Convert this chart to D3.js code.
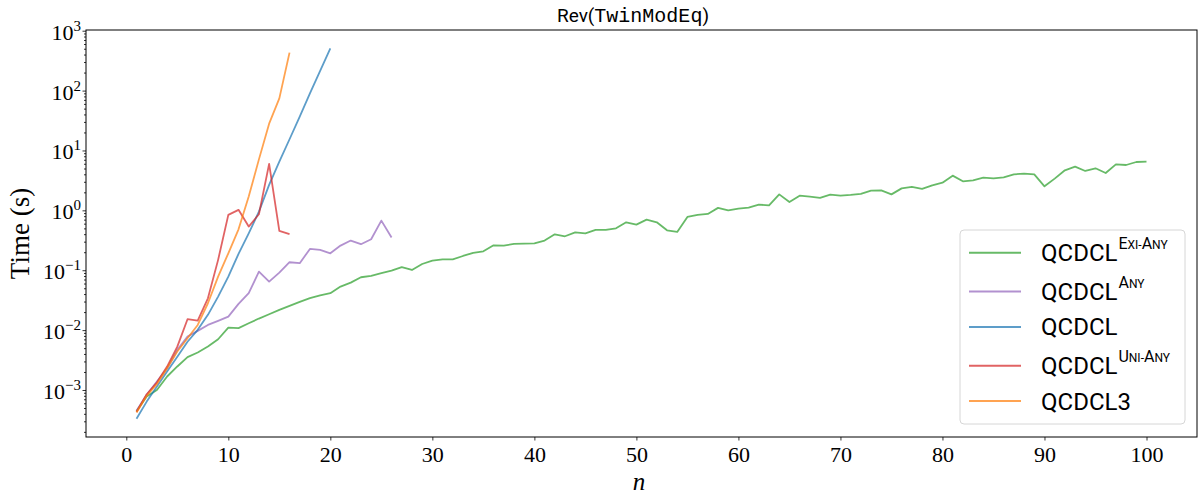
<!DOCTYPE html>
<html>
<head>
<meta charset="utf-8">
<script src="https://cdn.jsdelivr.net/npm/d3@7"></script>
<style>
  body { margin: 0; background: #fff; }
  svg { display: block; }
</style>
</head>
<body>
<div id="chart"></div>
<script>
// data
var nExiAny = d3.range(1, 101);
var tExiAny = [
  4.4e-4, 7.8e-4, 1.0e-3, 1.68e-3, 2.47e-3, 3.53e-3, 4.22e-3, 5.31e-3, 7.04e-3, 0.0110,
  0.0108, 0.0130, 0.0156, 0.0184, 0.0218, 0.0254, 0.0296, 0.0341, 0.0382, 0.0413,
  0.0534, 0.0622, 0.0764, 0.0804, 0.0891, 0.0987, 0.113, 0.101, 0.127, 0.145,
  0.152, 0.152, 0.173, 0.195, 0.207, 0.261, 0.258, 0.275, 0.279, 0.282,
  0.313, 0.398, 0.369, 0.430, 0.414, 0.471, 0.471, 0.502, 0.632, 0.578,
  0.700, 0.632, 0.465, 0.436, 0.776, 0.838, 0.871, 1.10, 1.00, 1.07,
  1.11, 1.25, 1.21, 1.85, 1.38, 1.76, 1.69, 1.61, 1.83, 1.76,
  1.81, 1.88, 2.13, 2.16, 1.85, 2.33, 2.46, 2.28, 2.62, 2.90,
  3.80, 3.06, 3.18, 3.52, 3.43, 3.56, 4.00, 4.10, 4.00, 2.52,
  3.39, 4.67, 5.37, 4.55, 5.04, 4.21, 5.87, 5.72, 6.42, 6.50
];
var nAny = d3.range(1, 27);
var tAny = [
  4.5e-4, 8.3e-4, 1.38e-3, 2.31e-3, 4.68e-3, 7.8e-3, 9.7e-3, 0.0122, 0.0143, 0.0168,
  0.0274, 0.0413, 0.095, 0.0647, 0.0914, 0.136, 0.131, 0.227, 0.218, 0.192,
  0.258, 0.313, 0.272, 0.329, 0.674, 0.351
];
var nPlain = d3.range(1, 21);
var tPlain = [
  3.3e-4, 6.4e-4, 1.14e-3, 2.03e-3, 3.6e-3, 6.4e-3, 0.0101, 0.0180, 0.0363, 0.078,
  0.188, 0.414, 0.95, 2.66, 6.5, 15.4, 36.7, 90, 213, 508
];
var nUniAny = d3.range(1, 17);
var tUniAny = [
  4.3e-4, 8.5e-4, 1.33e-3, 2.46e-3, 5.3e-3, 0.0152, 0.0144, 0.034, 0.149, 0.84,
  1.02, 0.536, 0.86, 5.96, 0.454, 0.40
];
var nQ3 = d3.range(1, 17);
var tQ3 = [
  4.2e-4, 8.0e-4, 1.26e-3, 2.31e-3, 4.4e-3, 7.3e-3, 0.0122, 0.0281, 0.078, 0.192,
  0.483, 1.70, 7.1, 28, 74, 430
];

var xTicks = d3.range(0, 101, 10);
var yMajor = [1e-3, 1e-2, 1e-1, 1e0, 1e1, 1e2, 1e3];
var yExp = ["\u22123", "\u22122", "\u22121", "0", "1", "2", "3"];

// legend: base text + superscript parts [text, small?]
var series = [
  {n: nExiAny, t: tExiAny, color: "#2ca02c", sup: [["E", 0], ["XI", 1], ["-", 1], ["A", 0], ["NY", 1]]},
  {n: nAny, t: tAny, color: "#9467bd", sup: [["A", 0], ["NY", 1]]},
  {n: nPlain, t: tPlain, color: "#1f77b4", sup: []},
  {n: nUniAny, t: tUniAny, color: "#d62728", sup: [["U", 0], ["NI", 1], ["-", 1], ["A", 0], ["NY", 1]]},
  {n: nQ3, t: tQ3, color: "#ff7f0e", sup: [], base: "QCDCL3"}
];

var width = 1199, height = 497;
var plot = {left: 86, right: 1197, top: 30, bottom: 437};

var svg = d3.select("#chart").append("svg")
  .attr("width", width)
  .attr("height", height);

var x = d3.scaleLinear().domain([-3.95, 104.95]).range([plot.left, plot.right]);
var y = d3.scaleLog().domain([Math.pow(10, -3.785), Math.pow(10, 3.012)]).range([plot.bottom, plot.top]);

var serif = "'Liberation Serif', 'DejaVu Serif', serif";
var sans = "Roboto, 'Open Sans', sans-serif";

// lines, clipped to the axes box
svg.append("clipPath").attr("id", "clip")
  .append("rect")
  .attr("x", plot.left).attr("y", plot.top)
  .attr("width", plot.right - plot.left).attr("height", plot.bottom - plot.top);

var line = d3.line()
  .x(function (d) { return x(d[0]); })
  .y(function (d) { return y(d[1]); });

svg.append("g").attr("clip-path", "url(#clip)")
  .selectAll("path")
  .data(series)
  .enter()
  .append("path")
  .attr("d", function (s) { return line(d3.zip(s.n, s.t)); })
  .attr("fill", "none")
  .attr("stroke", function (s) { return s.color; })
  .attr("stroke-opacity", 0.72)
  .attr("stroke-width", 1.8)
  .attr("stroke-linejoin", "round");

// x axis
var xAxis = svg.append("g")
  .attr("transform", "translate(0," + plot.bottom + ")")
  .call(d3.axisBottom(x).tickValues(xTicks).tickSize(3.5).tickSizeOuter(0).tickPadding(6));
xAxis.select(".domain").remove();
xAxis.selectAll("text")
  .attr("font-family", serif)
  .attr("font-size", 22)
  .attr("fill", "#000");

// y axis: minor ticks then major ticks with 10^k labels
var yMinor = [];
for (var e = -4; e <= 3; e++) {
  for (var m = 2; m <= 9; m++) {
    var v = m * Math.pow(10, e);
    if (v >= y.domain()[0] && v <= y.domain()[1]) yMinor.push(v);
  }
}
var yMinorAxis = svg.append("g")
  .attr("transform", "translate(" + plot.left + ",0)")
  .call(d3.axisLeft(y).tickValues(yMinor).tickSize(2).tickSizeOuter(0).tickFormat(""));
yMinorAxis.select(".domain").remove();

var yAxis = svg.append("g")
  .attr("transform", "translate(" + plot.left + ",0)")
  .call(d3.axisLeft(y).tickValues(yMajor).tickSize(3.5).tickSizeOuter(0).tickFormat(""));
yAxis.select(".domain").remove();
svg.selectAll(".tick line").attr("stroke", "#000").attr("stroke-width", 0.8);

var yLab = svg.append("g").selectAll("text")
  .data(yMajor)
  .enter()
  .append("text")
  .attr("x", plot.left - 5)
  .attr("y", function (d) { return y(d) + 9; })
  .attr("text-anchor", "end")
  .attr("font-family", serif)
  .attr("font-size", 22)
  .attr("fill", "#000");
yLab.append("tspan").text("10");
yLab.append("tspan")
  .attr("dy", -9)
  .attr("font-size", 15)
  .text(function (d, i) { return yExp[i]; });

// axes frame
svg.append("rect")
  .attr("x", plot.left).attr("y", plot.top)
  .attr("width", plot.right - plot.left).attr("height", plot.bottom - plot.top)
  .attr("fill", "none")
  .attr("stroke", "#000")
  .attr("stroke-width", 1);

// title
var title = svg.append("text")
  .attr("x", 633).attr("y", 22)
  .attr("text-anchor", "middle")
  .attr("font-size", 19)
  .attr("fill", "#000");
title.append("tspan").attr("font-family", sans).text("Rev(");
title.append("tspan").attr("font-family", "'Liberation Mono', 'DejaVu Sans Mono', monospace").attr("font-size", 20).text("TwinModEq");
title.append("tspan").attr("font-family", sans).text(")");

// axis labels
svg.append("text")
  .attr("transform", "translate(29," + ((plot.top + plot.bottom) / 2) + ") rotate(-90)")
  .attr("text-anchor", "middle")
  .attr("font-family", serif)
  .attr("font-size", 27)
  .attr("fill", "#000")
  .text("Time (s)");

svg.append("text")
  .attr("x", 639).attr("y", 490)
  .attr("text-anchor", "middle")
  .attr("font-family", serif)
  .attr("font-style", "italic")
  .attr("font-size", 25)
  .attr("fill", "#000")
  .text("n");

// legend
var leg = {left: 960, right: 1185, top: 230, bottom: 424, lineX0: 969, lineX1: 1021, textX: 1041};
var rowY = [];
var cy = leg.top + 22.7;
series.forEach(function (s, i) {
  if (i > 0) cy += 35.3 + (s.sup.length ? 3.6 : 0);
  rowY.push(cy);
});

svg.append("rect")
  .attr("x", leg.left).attr("y", leg.top)
  .attr("width", leg.right - leg.left).attr("height", leg.bottom - leg.top)
  .attr("rx", 4).attr("ry", 4)
  .attr("fill", "#fff").attr("fill-opacity", 0.8)
  .attr("stroke", "#d6d6d6").attr("stroke-width", 1);

var rows = svg.append("g").selectAll("g")
  .data(series)
  .enter()
  .append("g")
  .attr("transform", function (s, i) { return "translate(0," + rowY[i] + ")"; });

rows.append("line")
  .attr("x1", leg.lineX0).attr("x2", leg.lineX1)
  .attr("stroke", function (s) { return s.color; })
  .attr("stroke-opacity", 0.72)
  .attr("stroke-width", 2);

var labels = rows.append("text")
  .attr("x", leg.textX).attr("y", 8.5)
  .attr("font-family", sans)
  .attr("font-size", 24)
  .attr("fill", "#000");
labels.append("tspan").text(function (s) { return s.base || "QCDCL"; });
labels.each(function (s) {
  var t = d3.select(this);
  s.sup.forEach(function (p, k) {
    var sp = t.append("tspan")
      .attr("font-size", p[1] ? 12 : 16)
      .text(p[0]);
    if (k === 0) sp.attr("dx", 1).attr("dy", -12);
  });
});
</script>
</body>
</html>
